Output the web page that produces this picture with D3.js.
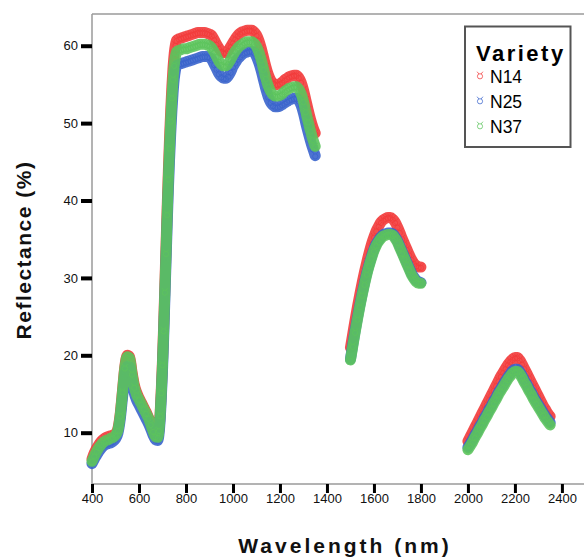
<!DOCTYPE html>
<html>
<head>
<meta charset="utf-8">
<script src="https://cdn.jsdelivr.net/npm/d3@7/dist/d3.min.js"></script>
<style>
  html, body { margin: 0; padding: 0; background: #fff; }
  svg { display: block; }
  text { font-family: Arial, "Liberation Sans", sans-serif; }
</style>
</head>
<body>
<svg id="chart" width="584" height="558"></svg>
<script>
// ---------------- DATA ----------------
const wavelengths = [
  400,410,420,430,440,450,460,470,480,490,500,510,520,530,540,550,560,570,580,590,600,610,620,630,640,650,660,670,680,
  685,690,695,700,705,710,715,720,725,730,735,740,745,750,755,760,
  770,780,790,800,810,820,830,840,850,860,870,880,890,900,910,920,930,940,950,960,970,980,990,1000,
  1010,1020,1030,1040,1050,1060,1070,1080,1090,1100,1110,1120,1130,1140,1150,1160,1170,1180,1190,1200,
  1210,1220,1230,1240,1250,1260,1270,1280,1290,1300,1310,1320,1330,1340,1350,
  1500,1510,1520,1530,1540,1550,1560,1570,1580,1590,1600,1610,1620,1630,1640,1650,1660,1670,1680,1690,1700,
  1710,1720,1730,1740,1750,1760,1770,1780,1790,1800,
  2000,2010,2020,2030,2040,2050,2060,2070,2080,2090,2100,2110,2120,2130,2140,2150,2160,2170,2180,2190,2200,
  2210,2220,2230,2240,2250,2260,2270,2280,2290,2300,2310,2320,2330,2340,2350
];

const n14 = [
  6.6,7.4,8.0,8.5,8.9,9.2,9.4,9.5,9.6,9.7,9.9,10.5,12.4,15.5,18.6,20.0,19.8,17.9,16.2,15.2,14.5,13.9,13.3,12.7,12.0,11.2,10.3,9.6,9.5,
  10.5,12.5,15.6,19.3,23.8,28.9,34.0,39.1,43.8,48.0,51.6,54.7,57.2,59.0,60.1,60.7,
  60.9,61.0,61.1,61.2,61.3,61.4,61.5,61.6,61.7,61.7,61.7,61.7,61.6,61.5,61.3,60.8,60.2,59.7,59.3,59.1,59.1,59.4,59.9,60.4,
  60.9,61.3,61.6,61.8,61.9,62.0,62.0,62.0,61.8,61.4,60.7,59.7,58.5,57.3,56.3,55.6,55.2,55.0,55.0,55.1,
  55.3,55.6,55.8,56.0,56.1,56.2,56.2,55.9,55.3,54.3,53.0,51.7,50.5,49.5,48.7,
  21.0,22.8,24.6,26.3,27.9,29.4,30.8,32.1,33.3,34.4,35.3,36.1,36.7,37.2,37.5,37.7,37.8,37.8,37.6,37.2,36.6,
  35.9,35.1,34.4,33.7,33.0,32.4,31.9,31.6,31.4,31.4,
  8.9,9.5,10.1,10.7,11.3,11.9,12.5,13.1,13.7,14.3,14.9,15.5,16.1,16.7,17.3,17.8,18.3,18.8,19.2,19.5,19.7,
  19.7,19.4,18.9,18.3,17.7,17.1,16.5,15.9,15.3,14.7,14.1,13.5,13.0,12.5,12.1
];

const n25 = [
  6.0,6.6,7.1,7.6,8.0,8.3,8.5,8.6,8.7,8.9,9.2,9.9,11.7,14.6,17.4,18.6,18.5,16.6,15.1,14.2,13.6,13.0,12.4,11.8,11.2,10.5,9.7,9.1,9.0,
  9.8,11.6,14.5,18.0,22.3,27.2,32.1,37.0,41.4,45.3,48.7,51.6,53.9,55.7,56.8,57.4,
  57.6,57.7,57.8,57.9,58.0,58.1,58.2,58.3,58.4,58.5,58.6,58.6,58.6,58.5,58.2,57.6,57.0,56.4,56.0,55.8,55.8,56.1,56.6,57.3,
  57.8,58.3,58.6,58.9,59.1,59.2,59.3,59.3,59.1,58.6,57.8,56.8,55.6,54.4,53.4,52.7,52.3,52.1,52.1,52.2,
  52.4,52.6,52.8,53.0,53.1,53.2,53.2,52.9,52.3,51.3,50.0,48.8,47.7,46.7,45.8,
  19.5,21.4,23.2,24.9,26.5,28.0,29.4,30.7,31.8,32.8,33.7,34.4,34.9,35.3,35.6,35.7,35.8,35.8,35.7,35.3,34.8,
  34.1,33.4,32.7,32.0,31.3,30.6,30.1,29.7,29.5,29.4,
  8.1,8.6,9.1,9.7,10.2,10.8,11.3,11.9,12.4,13.0,13.5,14.1,14.6,15.2,15.7,16.2,16.7,17.2,17.6,18.0,18.2,
  18.2,17.9,17.4,16.8,16.3,15.7,15.2,14.6,14.1,13.6,13.1,12.6,12.1,11.7,11.3
];

const n37 = [
  6.3,7.0,7.6,8.1,8.5,8.8,9.0,9.1,9.3,9.4,9.7,10.3,12.2,15.3,18.4,19.8,19.6,17.6,15.9,14.9,14.3,13.7,13.1,12.5,11.9,11.1,10.2,9.5,9.4,
  10.3,12.2,15.2,18.8,23.2,28.2,33.2,38.2,42.8,46.8,50.3,53.3,55.7,57.5,58.6,59.2,
  59.4,59.5,59.6,59.6,59.7,59.8,59.9,60.0,60.1,60.2,60.2,60.2,60.1,60.0,59.7,59.2,58.6,58.0,57.6,57.4,57.4,57.7,58.2,58.8,
  59.3,59.7,60.0,60.2,60.4,60.5,60.5,60.5,60.3,59.9,59.2,58.2,57.0,55.8,54.8,54.1,53.7,53.5,53.5,53.6,
  53.8,54.1,54.3,54.5,54.6,54.7,54.7,54.4,53.8,52.8,51.5,50.2,49.0,47.9,47.0,
  19.4,21.2,23.0,24.7,26.3,27.8,29.2,30.5,31.6,32.6,33.5,34.2,34.7,35.1,35.4,35.5,35.6,35.6,35.5,35.1,34.6,
  33.9,33.2,32.5,31.8,31.1,30.4,29.9,29.5,29.3,29.3,
  7.8,8.3,8.8,9.4,9.9,10.5,11.0,11.6,12.1,12.7,13.2,13.8,14.3,14.9,15.4,15.9,16.4,16.9,17.3,17.7,17.9,
  17.9,17.6,17.1,16.5,16.0,15.4,14.9,14.3,13.8,13.3,12.8,12.3,11.8,11.4,11.0
];

const seriesNames = ["N14", "N25", "N37"];
const seriesColors = ["#f23b3b", "#3a64cc", "#5cc45c"];
const xTicks = [400,600,800,1000,1200,1400,1600,1800,2000,2200,2400];
const yTicks = [10,20,30,40,50,60];
const xTitle = "Wavelength (nm)";
const yTitle = "Reflectance (%)";
const legendTitle = "Variety";

// ---------------- CHART ----------------
const svg = d3.select("#chart");
const x = d3.scaleLinear().domain([400, 2494]).range([92, 584]);
const y = d3.scaleLinear().domain([3.37, 64.1]).range([484, 14]);

// frame lines (left axis, bottom axis, top border)
const frame = svg.append("g").attr("stroke", "#9a9a9a").attr("stroke-width", 1.5).attr("fill", "none");
frame.append("line").attr("x1", x(400)).attr("x2", x(400)).attr("y1", y.range()[1]).attr("y2", y.range()[0]);
frame.append("line").attr("x1", x(400)).attr("x2", x.range()[1]).attr("y1", y.range()[0]).attr("y2", y.range()[0]);
frame.append("line").attr("x1", x(400)).attr("x2", x.range()[1]).attr("y1", y.range()[1]).attr("y2", y.range()[1]);

// axes
const yAxis = svg.append("g").attr("transform", `translate(${x(400)},0)`)
  .call(d3.axisLeft(y).tickValues(yTicks).tickSize(11).tickPadding(3).tickFormat(d3.format("d")));
yAxis.select(".domain").remove();
yAxis.selectAll(".tick line").attr("stroke", "#000").attr("stroke-width", 4);
yAxis.selectAll(".tick text").attr("font-size", 13).attr("fill", "#111")
  .style("font-family", "Arial, 'Liberation Sans', sans-serif");

const xAxis = svg.append("g").attr("transform", `translate(0,${y.range()[0]})`)
  .call(d3.axisBottom(x).tickValues(xTicks).tickSize(9).tickPadding(0.5).tickFormat(d3.format("d")));
xAxis.select(".domain").remove();
xAxis.selectAll(".tick line").attr("stroke", "#000").attr("stroke-width", 3);
xAxis.selectAll(".tick text").attr("font-size", 13).attr("fill", "#111")
  .style("font-family", "Arial, 'Liberation Sans', sans-serif");

// split data into contiguous spectral segments
function segments(vals) {
  const segs = [];
  let cur = [];
  wavelengths.forEach((w, i) => {
    if (cur.length && w - cur[cur.length - 1].w > 50) { segs.push(cur); cur = []; }
    cur.push({ w: w, v: vals[i] });
  });
  if (cur.length) segs.push(cur);
  return segs;
}

const markerPath = "M-2.6,0.8a2.6,2.6 0 1,0 5.2,0a2.6,2.6 0 1,0 -5.2,0M-2.9,-3.8L-1.2,-1.6M2.9,-3.8L1.2,-1.6";

const line = d3.line().x(d => x(d.w)).y(d => y(d.v)).curve(d3.curveMonotoneX);
const allSeries = [n14, n25, n37];

allSeries.forEach((vals, si) => {
  const g = svg.append("g");
  const col = seriesColors[si];
  segments(vals).forEach(seg => {
    g.append("path").attr("d", line(seg)).attr("fill", "none")
      .attr("stroke", col).attr("stroke-width", 11).attr("stroke-linecap", "round")
      .attr("stroke-linejoin", "round").attr("opacity", 0.9);
  });
  g.selectAll("path.pt").data(wavelengths.map((w, i) => ({ w: w, v: vals[i] })))
    .enter().append("path").attr("class", "pt")
    .attr("d", markerPath)
    .attr("transform", d => `translate(${x(d.w)},${y(d.v)})`)
    .attr("fill", "none").attr("stroke", col).attr("stroke-width", 1).attr("opacity", 0.8);
});

// axis titles
svg.append("text").attr("x", 345).attr("y", 553).attr("text-anchor", "middle")
  .attr("font-size", 21).attr("font-weight", "bold").attr("letter-spacing", "3px").attr("fill", "#111")
  .text(xTitle);
svg.append("text").attr("transform", "translate(31,250) rotate(-90)").attr("text-anchor", "middle")
  .attr("font-size", 21).attr("font-weight", "bold").attr("letter-spacing", "1.5px").attr("fill", "#111")
  .text(yTitle);

// legend
const lg = svg.append("g");
lg.append("rect").attr("x", 465).attr("y", 26.5).attr("width", 105.5).attr("height", 120.5)
  .attr("fill", "#fff").attr("stroke", "#555").attr("stroke-width", 2);
lg.append("text").attr("x", 476).attr("y", 60.5).attr("font-size", 22).attr("font-weight", "bold")
  .attr("letter-spacing", "2.5px").attr("fill", "#000").text(legendTitle);
const itemY = [83, 108, 133];
seriesNames.forEach((name, i) => {
  lg.append("path").attr("d", markerPath)
    .attr("transform", `translate(480,${itemY[i] - 7.5})`)
    .attr("fill", "none").attr("stroke", seriesColors[i]).attr("stroke-width", 1).attr("opacity", 0.75);
  lg.append("text").attr("x", 490).attr("y", itemY[i]).attr("font-size", 17.5).attr("fill", "#000").text(name);
});
</script>
</body>
</html>
